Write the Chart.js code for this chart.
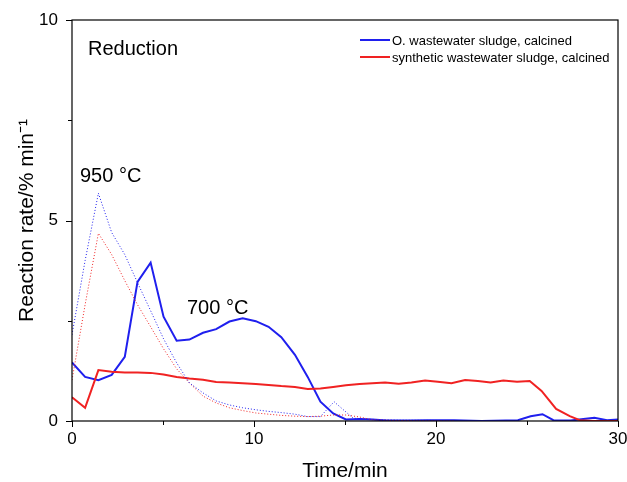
<!DOCTYPE html>
<html>
<head>
<meta charset="utf-8">
<script src="https://cdn.jsdelivr.net/npm/chart.js@4/dist/chart.umd.min.js"></script>
<style>
  html, body { margin: 0; padding: 0; background: #fff; }
  #wrap { width: 627px; height: 482px; }
</style>
</head>
<body>
<div id="wrap"><canvas id="chart" width="627" height="482"></canvas></div>
<script>
// O. wastewater sludge, calcined (700 °C, solid)
const blueTime = [0, 0.72, 1.45, 2.18, 2.9, 3.6, 4.32, 5.03, 5.75, 6.45, 7.2, 7.92, 8.65, 9.38, 10.1, 10.8, 11.5, 12.25, 12.95, 13.65, 14.35, 15.05, 15.8, 16.5, 17.3, 18.5, 19.5, 21, 22.5, 24.5, 25.2, 25.85, 26.45, 27.4, 28.1, 28.7, 29.4, 30];
const blueRate = [1.46, 1.10, 1.02, 1.15, 1.60, 3.47, 3.95, 2.60, 2.00, 2.03, 2.20, 2.29, 2.48, 2.56, 2.49, 2.35, 2.09, 1.65, 1.10, 0.48, 0.19, 0.04, 0.05, 0.04, 0.01, 0.01, 0.02, 0.02, 0.0, 0.02, 0.12, 0.17, 0.02, 0.01, 0.05, 0.08, 0.02, 0.04];

// synthetic wastewater sludge, calcined (700 °C, solid)
const redTime = [0, 0.72, 1.45, 2.18, 2.9, 3.6, 4.32, 5.03, 5.75, 6.45, 7.2, 7.92, 8.65, 9.38, 10.1, 10.8, 11.5, 12.25, 12.95, 13.65, 14.35, 15.05, 15.8, 16.5, 17.2, 17.95, 18.65, 19.4, 20.1, 20.85, 21.6, 22.3, 23.0, 23.7, 24.45, 25.15, 25.8, 26.6, 27.35, 27.9, 28.7, 30];
const redRate = [0.59, 0.33, 1.27, 1.23, 1.21, 1.21, 1.20, 1.16, 1.10, 1.06, 1.03, 0.97, 0.96, 0.94, 0.92, 0.90, 0.87, 0.85, 0.80, 0.81, 0.85, 0.89, 0.92, 0.94, 0.96, 0.93, 0.96, 1.01, 0.98, 0.94, 1.02, 1.00, 0.96, 1.01, 0.98, 1.00, 0.75, 0.30, 0.12, 0.02, 0.0, 0.0];

// 950 °C runs (dotted)
const blue950Time = [0, 0.72, 1.45, 2.18, 2.9, 3.6, 4.32, 5.03, 5.75, 6.45, 7.2, 7.92, 8.65, 9.38, 10.1, 10.8, 11.5, 12.25, 12.95, 13.65, 14.4, 15.45, 16.5, 18, 21];
const blue950Rate = [2.15, 4.0, 5.68, 4.7, 4.15, 3.45, 2.75, 2.05, 1.45, 0.95, 0.70, 0.50, 0.40, 0.33, 0.28, 0.24, 0.21, 0.17, 0.11, 0.11, 0.48, 0.07, 0.04, 0.02, 0.01];
const red950Time = [0, 0.72, 1.45, 2.18, 2.9, 3.6, 4.32, 5.03, 5.75, 6.45, 7.2, 7.92, 8.65, 9.38, 10.1, 10.8, 11.5, 12.25, 12.95, 13.65, 14.35, 15.05, 15.8, 16.5, 18, 21];
const red950Rate = [1.02, 2.9, 4.68, 4.15, 3.5, 2.9, 2.35, 1.8, 1.3, 0.95, 0.62, 0.45, 0.33, 0.26, 0.20, 0.17, 0.14, 0.12, 0.11, 0.12, 0.15, 0.15, 0.10, 0.03, 0.01, 0.0];

const xTicks = [0, 10, 20, 30];
const yTicks = [0, 5, 10];
const seriesNames = ["O. wastewater sludge, calcined", "synthetic wastewater sludge, calcined"];

const BLUE = "#1f1fee";
const RED = "#f02222";
const FONT = "'Liberation Sans', Arial, Helvetica, sans-serif";

function points(xs, ys) {
  return xs.map((x, i) => ({ x: x, y: ys[i] }));
}

// frame, minor/major ticks, legend and text labels
const decor = {
  id: "decor",
  afterDraw(chart) {
    const ctx = chart.ctx;
    const a = chart.chartArea;
    const xs = chart.scales.x, ys = chart.scales.y;
    ctx.save();
    ctx.strokeStyle = "#000";
    ctx.lineWidth = 1.2;
    ctx.strokeRect(a.left, a.top, a.right - a.left, a.bottom - a.top);

    ctx.lineWidth = 1;
    ctx.beginPath();
    for (let v = 0; v <= 30; v += 5) {
      const px = Math.round(xs.getPixelForValue(v)) + 0.5;
      const len = v % 10 === 0 ? 6 : 4;
      ctx.moveTo(px, a.bottom);
      ctx.lineTo(px, a.bottom + len);
    }
    for (let v = 0; v <= 10; v += 2.5) {
      const py = Math.round(ys.getPixelForValue(v)) + 0.5;
      const len = v % 5 === 0 ? 6 : 4;
      ctx.moveTo(a.left, py);
      ctx.lineTo(a.left - len, py);
    }
    ctx.stroke();

    // legend
    ctx.font = "13px " + FONT;
    ctx.textBaseline = "middle";
    ctx.fillStyle = "#000";
    [[BLUE, 40], [RED, 57]].forEach((s, i) => {
      ctx.strokeStyle = s[0];
      ctx.lineWidth = 2;
      ctx.beginPath();
      ctx.moveTo(360, s[1]);
      ctx.lineTo(390, s[1]);
      ctx.stroke();
      ctx.fillText(seriesNames[i], 392, s[1] + 1);
    });

    // annotations
    ctx.font = "20px " + FONT;
    ctx.fillText("Reduction", 88, 49);
    ctx.fillText("950 °C", 80, 176);
    ctx.fillText("700 °C", 187, 308);
    ctx.restore();
  }
};

const dashed = { borderWidth: 1, borderDash: [1, 2], pointRadius: 0, tension: 0 };
const solid = { borderWidth: 2, pointRadius: 0, tension: 0 };

new Chart(document.getElementById("chart"), {
  type: "line",
  data: {
    datasets: [
      Object.assign({ label: "O. 950", data: points(blue950Time, blue950Rate), borderColor: BLUE }, dashed),
      Object.assign({ label: "s. 950", data: points(red950Time, red950Rate), borderColor: RED }, dashed),
      Object.assign({ label: seriesNames[1], data: points(redTime, redRate), borderColor: RED }, solid),
      Object.assign({ label: seriesNames[0], data: points(blueTime, blueRate), borderColor: BLUE }, solid)
    ]
  },
  options: {
    responsive: false,
    animation: false,
    layout: { padding: { top: 20, right: 9, left: 0, bottom: 0 } },
    plugins: { legend: { display: false }, tooltip: { enabled: false } },
    scales: {
      x: {
        type: "linear",
        min: 0, max: 30,
        afterBuildTicks: s => { s.ticks = xTicks.map(v => ({ value: v })); },
        afterFit: s => { s.height = 61; s.paddingLeft = 0; s.paddingRight = 0; },
        grid: { display: false, drawTicks: false },
        border: { display: false },
        ticks: { padding: 8, color: "#000", font: { family: FONT, size: 17 }, maxRotation: 0 },
        title: { display: true, text: "Time/min", color: "#000", font: { family: FONT, size: 21 }, padding: { top: 0, bottom: -2 } }
      },
      y: {
        min: 0, max: 10,
        afterBuildTicks: s => { s.ticks = yTicks.map(v => ({ value: v })); },
        afterFit: s => { s.width = 72; s.paddingTop = 0; s.paddingBottom = 0; },
        grid: { display: false, drawTicks: false },
        border: { display: false },
        ticks: { padding: 14, color: "#000", font: { family: FONT, size: 17 } },
        title: { display: true, text: "Reaction rate/% min\u207B\u00B9", color: "#000", font: { family: FONT, size: 21 }, padding: { top: 15, bottom: 0 } }
      }
    }
  },
  plugins: [decor]
});
</script>
</body>
</html>
